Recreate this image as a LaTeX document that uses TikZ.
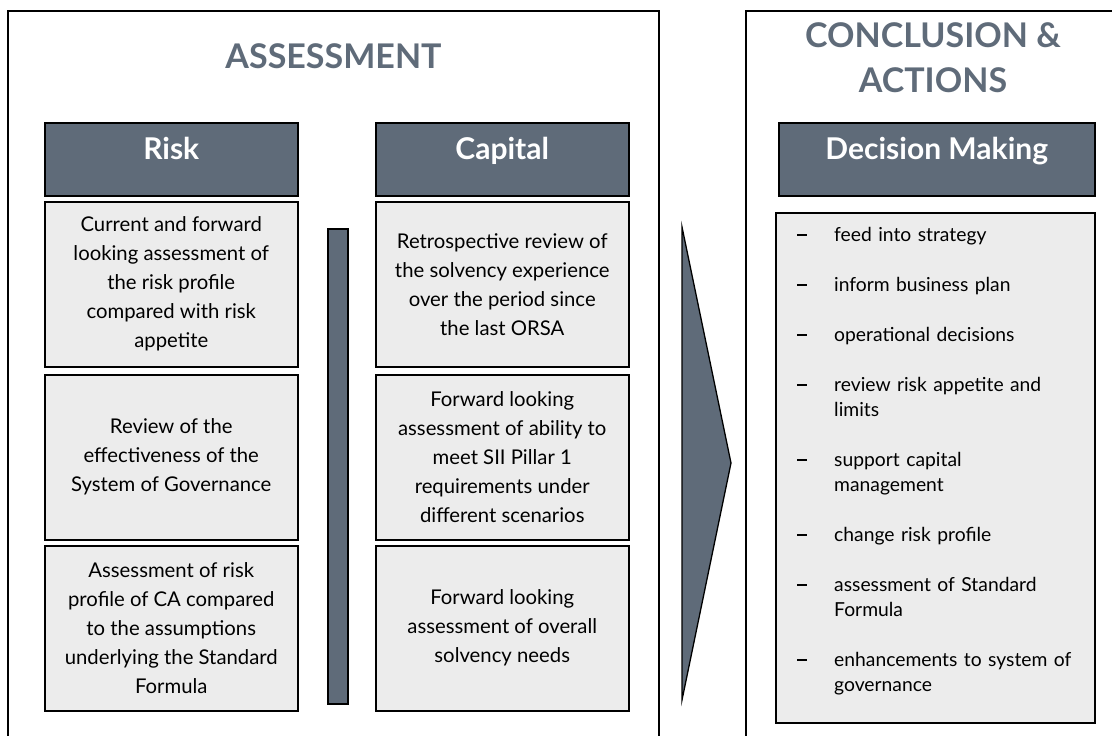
\documentclass[tikz,border=0pt]{standalone}
\usepackage{fontspec}
\setmainfont{Lato}
\definecolor{hdr}{HTML}{5F6B79}
\definecolor{boxfill}{HTML}{ECECEC}
\begin{document}
\begin{tikzpicture}[x=1pt,y=-1pt,
  frame/.style={draw=black,line width=1.3pt},
  hdrbox/.style={draw=black,fill=hdr,line width=1.5pt,anchor=north west,minimum height=73pt,inner sep=0pt},
  hdrtext/.style={text=white,anchor=base,font=\fontsize{30}{34}\selectfont\bfseries},
  txtbox/.style={draw=black,fill=boxfill,line width=1.5pt,anchor=north west,minimum width=253pt,inner sep=0pt,align=center,font=\fontsize{20.3}{29}\selectfont},
  title/.style={text=hdr,font=\fontsize{34}{45}\selectfont\bfseries,align=center}
]
\useasboundingbox (0,0) rectangle (1112,736);
% frames
\draw[frame] (8,740) -- (8,11) -- (659,11) -- (659,740);
\draw[frame] (746,740) -- (746,11) -- (1116,11);
% titles
\node[title] (tA) at (333.5,56) {ASSESSMENT};
\node[title] (tC) at (933,58) {CONCLUSION \&\\ACTIONS};
% headers
\node[hdrbox,minimum width=253pt] (hRisk) at (44,122) {};
\node[hdrtext] (lRisk) at (hRisk.center) {Risk};
\node[hdrbox,minimum width=253pt] (hCap) at (375,122) {};
\node[hdrtext] (lCap) at (hCap.center) {Capital};
\node[hdrbox,minimum width=316pt] (hDec) at (778,122) {};
\node[hdrtext] (lDec) at (hDec.center) {Decision Making};
% risk column
\node[txtbox,minimum height=165pt] (r1) at (44,201) {Current and forward\\looking assessment of\\the risk profile\\compared with risk\\appetite};
\node[txtbox,minimum height=165pt] (r2) at (44,374) {Review of the\\effectiveness of the\\System of Governance};
\node[txtbox,minimum height=165pt] (r3) at (44,545) {Assessment of risk\\profile of CA compared\\to the assumptions\\underlying the Standard\\Formula};
% capital column
\node[txtbox,minimum height=165pt] (c1) at (375,201) {Retrospective review of\\the solvency experience\\over the period since\\the last ORSA};
\node[txtbox,minimum height=165pt] (c2) at (375,374) {Forward looking\\assessment of ability to\\meet SII Pillar 1\\requirements under\\different scenarios};
\node[txtbox,minimum height=165pt] (c3) at (375,545) {Forward looking\\assessment of overall\\solvency needs};
% bar
\node[draw=black,fill=hdr,line width=1.5pt,anchor=north west,minimum width=20pt,minimum height=475pt,inner sep=0pt] (bar) at (327,228) {};
% arrow
\draw[fill=hdr,line width=1.3pt,line join=miter] (682,227) -- (731,463) -- (682,700) -- cycle;
% decision list
\node[draw=black,fill=boxfill,line width=1.5pt,anchor=north west,minimum width=319pt,minimum height=510pt,inner sep=0pt] (dec) at (775,212) {};
\node[anchor=north west,inner sep=0pt,text width=290pt,font=\fontsize{19.3}{25}\selectfont] (list) at (797,227) {%
\parskip=25pt\raggedright
\def\nl{\hfil\break}%
\def\itm#1{\hangindent=37pt\hangafter=1\noindent\makebox[37pt][l]{\rule[5.5pt]{10pt}{1.5pt}}#1\par}%
\itm{feed into strategy}
\itm{inform business plan}
\itm{operational decisions}
\itm{review risk appetite and\nl limits}
\itm{support capital\nl management}
\itm{change risk profile}
\itm{assessment of Standard\nl Formula}
\itm{enhancements to system of\nl governance}
};
\end{tikzpicture}
\end{document}
